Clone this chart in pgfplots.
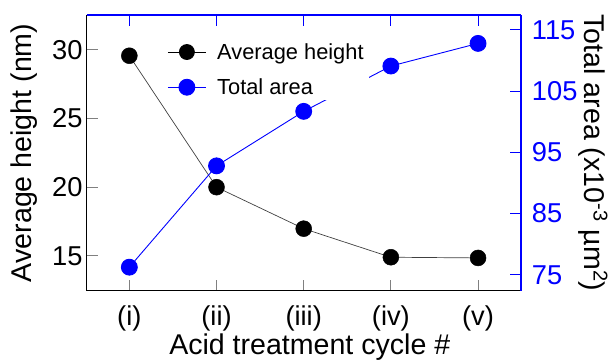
\documentclass[border=0pt]{standalone}
\usepackage{fontspec}
\setmainfont{Liberation Sans}
\usepackage{pgfplots}
\pgfplotsset{compat=1.18}
\usetikzlibrary{calc}
\definecolor{myblue}{RGB}{0,0,255}
\begin{document}
\begin{tikzpicture}[font=\fontsize{27.5}{30}\selectfont]
\pgfplotsset{
 base/.style={scale only axis, width=436bp, height=277bp,
  xmin=-0.49, xmax=4.49, xtick={0,1,2,3,4},
  /pgf/number format/assume math mode=true,
  tick style={line width=1bp}, axis line style={line width=1.5bp},
  major tick length=11bp, tick align=inside,
  label style={font=\fontsize{28.8}{32}\selectfont}}
}
\begin{axis}[base, name=ax1, axis y line*=left, axis x line*=bottom,
  ymin=12.46, ymax=32.54, ytick={15,20,25,30},
  xticklabels={(i),(ii),(iii),(iv),(v)},
  xticklabel style={anchor=base, inner sep=0pt, yshift=-35bp},
  yticklabel style={anchor=east, inner sep=0pt, xshift=-4bp},
  xlabel={Acid treatment cycle \#},
  xlabel style={at={(axis description cs:0.514,-0.231)}, anchor=base},
  ylabel={Average height (nm)},
  ylabel style={at={(axis description cs:-0.145,0.5)}, anchor=center}]
\addplot[black!75, line width=0.7bp, mark=*, mark size=8bp, mark options={fill=black, draw=black, line width=0.5bp}]
  coordinates {(0,29.57)(1,20)(2,16.98)(3,14.9)(4,14.85)};
\end{axis}
\begin{axis}[base, axis y line*=right, axis x line*=top,
  ymin=72.4, ymax=117.45, ytick={75,85,95,105,115},
  xticklabels={},
  axis line style={myblue}, tick style={myblue},
  yticklabel style={myblue, anchor=west, inner sep=0pt, xshift=11bp},
  ylabel={Total area (x10\textsuperscript{-3} µm\textsuperscript{2})},
  ylabel style={at={(axis description cs:1.167,0.5)}, anchor=center, rotate=180},
  legend style={at={(axis description cs:0.179,0.912)}, anchor=north west, draw=none,
    row sep=14bp, column sep=9bp, font=\fontsize{22}{24}\selectfont},
  legend cell align=left,
  legend image code/.code={%
    \pgftransformresetnontranslations
    \draw[#1, mark=none] (0bp,0bp) -- (38bp,0bp);
    \draw[#1] plot[only marks] coordinates {(19bp,0bp)};}]
\addlegendimage{draw=black, color=black, line width=0.9bp, mark=*, mark size=7.5bp, mark options={fill=black, draw=black}}
\addlegendentry{Average height}
\addplot[draw=myblue, color=myblue, line width=0.9bp, mark=*, mark size=8bp, mark options={fill=myblue, draw=myblue}]
  coordinates {(0,76.25)(1,92.8)(2,101.7)(3,109.1)(4,112.8)};
\addlegendentry{Total area}
\end{axis}
\path[use as bounding box] ($(ax1.south west)+(-87bp,-66bp)$) rectangle ($(ax1.north east)+(88bp,15bp)$);
\end{tikzpicture}
\end{document}
